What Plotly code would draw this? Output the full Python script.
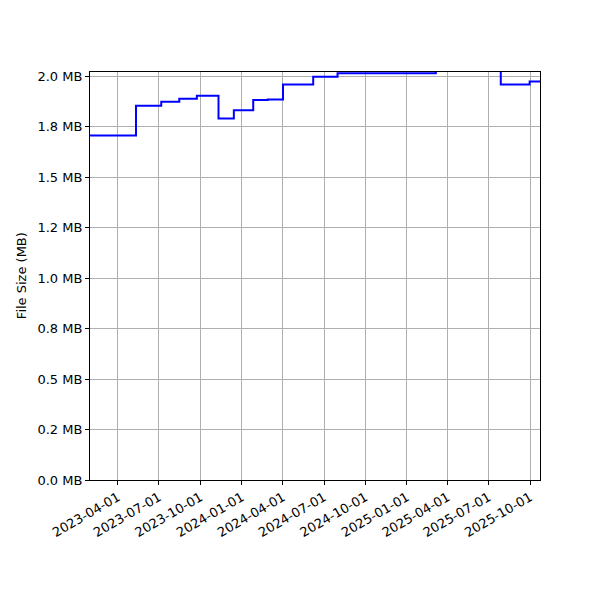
import plotly.graph_objects as go

# Step changes: date of change and new file size (MB)
dates = ["2023-01-29", "2023-05-11", "2023-07-06", "2023-08-15", "2023-09-23",
         "2023-11-10", "2023-12-14", "2024-01-26", "2024-02-27", "2024-04-01",
         "2024-06-07", "2024-07-31", "2025-03-06", "2025-07-28", "2025-09-30",
         "2025-10-23"]
sizes_mb = [1.707, 1.855, 1.875, 1.889, 1.904,
            1.792, 1.833, 1.883, 1.886, 1.960,
            1.999, 2.016, 2.060, 1.960, 1.975,
            1.975]

x_tick_vals = ["2023-04-01", "2023-07-01", "2023-10-01", "2024-01-01", "2024-04-01",
               "2024-07-01", "2024-10-01", "2025-01-01", "2025-04-01", "2025-07-01",
               "2025-10-01"]
y_tick_vals = [0, 0.25, 0.5, 0.75, 1.0, 1.25, 1.5, 1.75, 2.0]
y_tick_text = ["0.0 MB", "0.2 MB", "0.5 MB", "0.8 MB", "1.0 MB", "1.2 MB",
               "1.5 MB", "1.8 MB", "2.0 MB"]

fig = go.Figure()
fig.add_trace(go.Scatter(x=dates, y=sizes_mb, mode="lines", line_shape="hv",
                         line=dict(color="#0000ff", width=2), showlegend=False))

axis_common = dict(showline=True, linecolor="black", linewidth=1, mirror=True,
                   showgrid=True, gridcolor="#b0b0b0", gridwidth=1,
                   ticks="outside", ticklen=4, tickcolor="black", zeroline=False,
                   tickfont=dict(family="DejaVu Sans", size=13, color="black"))

fig.update_layout(
    width=600, height=600,
    margin=dict(l=82, r=68, t=64, b=128),
    plot_bgcolor="white", paper_bgcolor="white",
    font=dict(family="DejaVu Sans", size=13, color="black"),
    xaxis=dict(range=["2023-01-29", "2025-10-23"], tickvals=x_tick_vals,
               ticktext=x_tick_vals, tickangle=-30, **axis_common),
    yaxis=dict(range=[0, 2.022], tickvals=y_tick_vals, ticktext=y_tick_text,
               **axis_common),
    annotations=[dict(text="File Size (MB)", xref="paper", yref="paper",
                      x=-0.153, y=0.5, xanchor="center", yanchor="middle",
                      textangle=-90, showarrow=False,
                      font=dict(family="DejaVu Sans", size=13, color="black"))],
)

fig.write_html("out.html")
